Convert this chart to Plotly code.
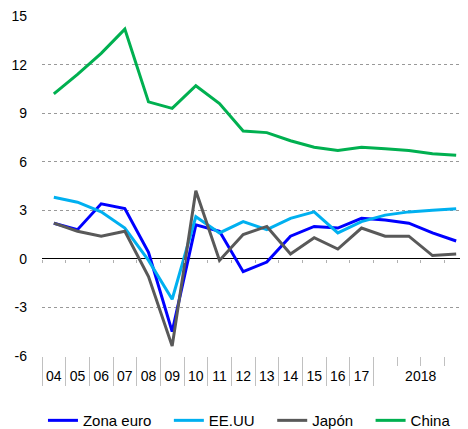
import plotly.graph_objects as go

# Categories: years 2004-2017, then 2018 by quarter
categories = ["04", "05", "06", "07", "08", "09", "10", "11", "12", "13", "14",
              "15", "16", "17", "2018 T1", "2018 T2", "2018 T3", "2018 T4"]
year_labels = ["04", "05", "06", "07", "08", "09", "10", "11", "12", "13", "14",
               "15", "16", "17"]
last_year_label = "2018"

zona_euro = [2.2, 1.8, 3.4, 3.1, 0.4, -4.5, 2.1, 1.7, -0.8, -0.2, 1.4,
             2.0, 1.9, 2.5, 2.4, 2.2, 1.6, 1.1]
eeuu = [3.8, 3.5, 2.9, 1.9, -0.1, -2.5, 2.6, 1.6, 2.3, 1.8, 2.5,
        2.9, 1.6, 2.3, 2.7, 2.9, 3.0, 3.1]
japon = [2.2, 1.7, 1.4, 1.7, -1.1, -5.4, 4.2, -0.1, 1.5, 2.0, 0.3,
         1.3, 0.6, 1.9, 1.4, 1.4, 0.2, 0.3]
china = [10.2, 11.4, 12.7, 14.2, 9.7, 9.3, 10.7, 9.6, 7.9, 7.8, 7.3,
         6.9, 6.7, 6.9, 6.8, 6.7, 6.5, 6.4]

series = [
    ("Zona euro", zona_euro, "#0000FF"),
    ("EE.UU", eeuu, "#00B0F0"),
    ("Japón", japon, "#595959"),
    ("China", china, "#00B050"),
]

y_ticks = [-6, -3, 0, 3, 6, 9, 12, 15]
y_ticktext = [str(v) for v in y_ticks]  # keep hyphen-minus

FONT = "Liberation Sans, Arial, sans-serif"
PAD = "\u00a0\u00a0\u00a0"  # extra spacing between legend entries

n = len(categories)
xs = list(range(n))
n_years = len(year_labels)
xrange = [-0.5, n - 0.5]
yrange = [y_ticks[0] - 0.01, y_ticks[-1] + 0.01]

fig = go.Figure()
for i, (name, vals, color) in enumerate(series):
    label = name + (PAD if i < len(series) - 1 else "")
    fig.add_trace(go.Scatter(x=xs, y=vals, name=label, mode="lines",
                             line=dict(color=color, width=3)))

year_bounds = [i - 0.5 for i in range(n_years + 1)]
quarter_bounds = [i + 0.5 for i in range(n_years, n - 1)]
all_bounds = [i - 0.5 for i in range(n)]
label_vals = list(range(n_years)) + [(n_years + n - 1) / 2]
label_text = year_labels + [last_year_label]

# page body has an 8px default margin, so the figure is 8px smaller
fig.update_layout(
    width=460, height=421,
    margin=dict(l=34, r=0, t=8, b=73, autoexpand=False),
    paper_bgcolor="white", plot_bgcolor="white",
    font=dict(family=FONT, size=14, color="#000000"),
    showlegend=True,
    legend=dict(orientation="h", x=0.487, xanchor="center", y=-0.19,
                yanchor="middle", font=dict(size=15), itemwidth=30,
                traceorder="normal"),
    xaxis=dict(range=xrange, tickmode="array", tickvals=label_vals,
               ticktext=label_text, ticks="", showgrid=False, zeroline=False,
               showline=False, ticklabelstandoff=10,
               tickfont=dict(size=14)),
    xaxis2=dict(range=xrange, overlaying="x", anchor="y", side="bottom",
                tickmode="array", tickvals=year_bounds, ticks="outside",
                ticklen=29, tickcolor="#c0c0c0", tickwidth=1,
                showticklabels=False, showgrid=False, zeroline=False,
                showline=False),
    xaxis3=dict(range=xrange, overlaying="x", anchor="y", side="bottom",
                tickmode="array", tickvals=quarter_bounds, ticks="outside",
                ticklen=9, tickcolor="#c0c0c0", tickwidth=1,
                showticklabels=False, showgrid=False, zeroline=False,
                showline=False),
    xaxis4=dict(range=xrange, overlaying="x", anchor="free",
                position=(0 - yrange[0]) / (yrange[1] - yrange[0]),
                side="bottom",
                tickmode="array", tickvals=all_bounds, ticks="outside",
                ticklen=3, tickcolor="#b0b0b0", tickwidth=1,
                showticklabels=False, showgrid=False, zeroline=False,
                showline=False),
    yaxis=dict(range=yrange, tickmode="array",
               tickvals=y_ticks, ticktext=y_ticktext, showgrid=True,
               gridcolor="#999999", griddash="dot", gridwidth=1,
               zeroline=True, zerolinecolor="#000000", zerolinewidth=1,
               showline=False, ticks="", ticklabelstandoff=14,
               ticklabeloverflow="allow", tickfont=dict(size=14)),
)

# invisible traces so the overlay axes are drawn
for ax in ["x2", "x3", "x4"]:
    fig.add_trace(go.Scatter(x=[xrange[0]], y=[yrange[0]], xaxis=ax, yaxis="y",
                             mode="markers", marker=dict(opacity=0),
                             showlegend=False, hoverinfo="skip"))

fig.write_html("out.html")
